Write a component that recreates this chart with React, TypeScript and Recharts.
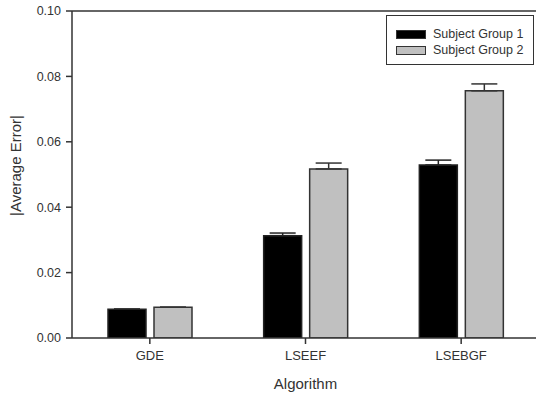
import React from 'react';
import { BarChart, Bar, XAxis, YAxis, ErrorBar, ReferenceLine } from 'recharts';

const categories = ['GDE', 'LSEEF', 'LSEBGF'];
const group1 = [0.0088, 0.0313, 0.0529];
const group2 = [0.0094, 0.0517, 0.0756];
const group1Err = [0, 0.0008, 0.0015];
const group2Err = [0, 0.0018, 0.0021];
const yTicks = [0, 0.02, 0.04, 0.06, 0.08, 0.1];
const seriesNames = ['Subject Group 1', 'Subject Group 2'];
const seriesColors = ['#000', '#c0c0c0'];

const data = categories.map((c, i) => ({
  name: c,
  g1: group1[i],
  g2: group2[i],
  e1: [0, group1Err[i]],
  e2: [0, group2Err[i]],
}));

const FONT = '"Liberation Sans", Arial, sans-serif';

const LegendBox = () => (
  <div
    style={{
      position: 'absolute',
      left: 386,
      top: 15,
      border: '1px solid #333',
      width: 148,
      height: 50,
      boxSizing: 'border-box',
      padding: '10px 0 0 9px',
      fontFamily: FONT,
      fontSize: 12.5,
      color: '#333',
      background: '#fff',
    }}
  >
    {seriesNames.map((n, i) => (
      <div key={n} style={{ display: 'flex', alignItems: 'center', height: 16 }}>
        <div
          style={{
            width: 30,
            height: 9,
            boxSizing: 'border-box',
            background: seriesColors[i],
            border: '1.5px solid #333',
            marginRight: 7,
          }}
        />
        <span>{n}</span>
      </div>
    ))}
  </div>
);

export default function App() {
  return (
    <div style={{ position: 'absolute', left: 0, top: 0, width: 536, height: 398, overflow: 'hidden', background: '#fff' }}>
      <BarChart
        width={545}
        height={398}
        data={data}
        margin={{ top: 11, right: 6, bottom: 0, left: 0 }}
        barSize={38}
        barGap={8}
      >
        <XAxis
          dataKey="name"
          height={60}
          stroke="#333"
          strokeWidth={1.5}
          tickSize={6}
          tickMargin={7}
          tick={{ fill: '#333', fontSize: 13, fontFamily: FONT }}
          label={{ value: 'Algorithm', position: 'insideBottom', offset: 9, fill: '#333', fontSize: 15, fontFamily: FONT }}
        />
        <YAxis
          width={72}
          domain={[0, 0.1]}
          ticks={yTicks}
          tickFormatter={(v: number) => v.toFixed(2)}
          stroke="#333"
          strokeWidth={1.5}
          tickSize={6}
          tickMargin={5}
          interval={0}
          allowDataOverflow
          tick={{ fill: '#333', fontSize: 12.5, fontFamily: FONT }}
          label={{
            value: '|Average Error|',
            angle: -90,
            position: 'insideLeft',
            offset: 16,
            dy: -9,
            fill: '#333',
            fontSize: 15,
            fontFamily: FONT,
            style: { textAnchor: 'middle' },
          }}
        />
        <ReferenceLine y={0.1} stroke="#333" strokeWidth={1.5} />
        <Bar dataKey="g1" name={seriesNames[0]} fill={seriesColors[0]} stroke="#222" strokeWidth={1.5} isAnimationActive={false}>
          <ErrorBar dataKey="e1" width={13} stroke="#222" strokeWidth={1.5} />
        </Bar>
        <Bar dataKey="g2" name={seriesNames[1]} fill={seriesColors[1]} stroke="#333" strokeWidth={1.5} isAnimationActive={false}>
          <ErrorBar dataKey="e2" width={13} stroke="#333" strokeWidth={1.5} />
        </Bar>
      </BarChart>
      <LegendBox />
    </div>
  );
}
